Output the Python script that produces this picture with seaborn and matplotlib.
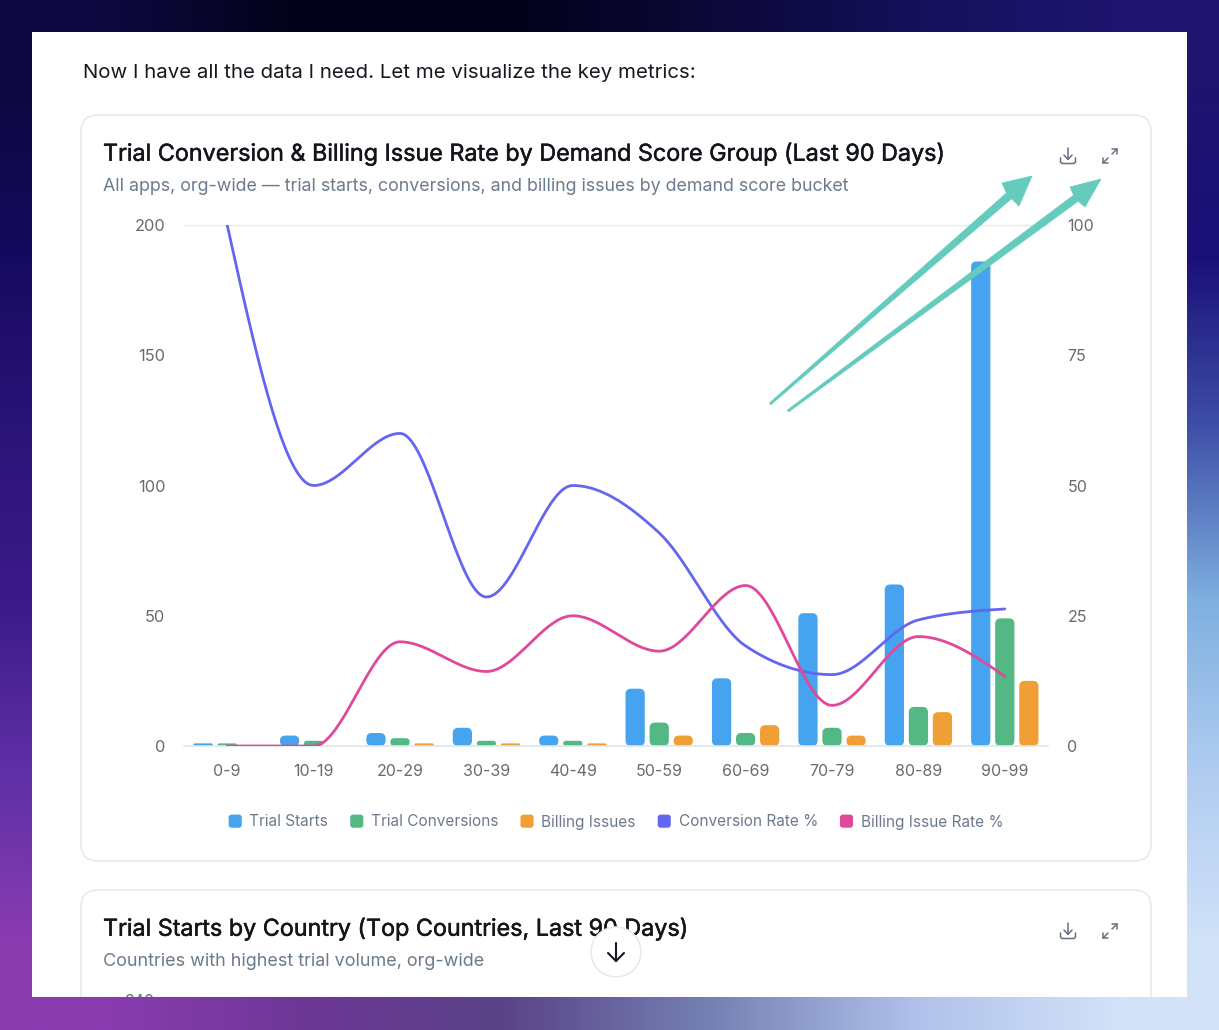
import numpy as np
import pandas as pd
import seaborn as sns
import matplotlib.pyplot as plt
import matplotlib.patheffects as pe
from matplotlib.colors import to_rgb
from matplotlib.legend_handler import HandlerPatch
from matplotlib.patches import Circle, FancyBboxPatch, Patch, Polygon, Rectangle

# data
groups = ["0-9", "10-19", "20-29", "30-39", "40-49", "50-59", "60-69", "70-79", "80-89", "90-99"]
trial_starts = [1, 4, 5, 7, 4, 22, 26, 51, 62, 186]
trial_conversions = [1, 2, 3, 2, 2, 9, 5, 7, 15, 49]
billing_issues = [0, 0, 1, 1, 1, 4, 8, 4, 13, 25]
conversion_rate = [100, 50, 60, 28.6, 50, 40.9, 19.2, 13.7, 24.2, 26.3]
billing_rate = [0, 0, 20, 14.3, 25, 18.2, 30.8, 7.8, 21, 13.4]
left_ticks = [0, 50, 100, 150, 200]
right_ticks = [0, 25, 50, 75, 100]

BLUE, GREEN, ORANGE = "#45a3ef", "#53b883", "#ef9f36"
PURPLE, PINK = "#6366f1", "#e0489a"
W, H = 1219, 1030

sns.set_theme(style="white")
plt.rcParams["font.family"] = ["Inter", "DejaVu Sans"]

fig = plt.figure(figsize=(W / 100, H / 100), dpi=100)


def axes_px(x0, y0, x1, y1, **kw):
    return fig.add_axes([x0 / W, 1 - y1 / H, (x1 - x0) / W, (y1 - y0) / H], **kw)


# background frame, page and cards
bg = fig.add_axes([0, 0, 1, 1], zorder=0)
bg.axis("off")

grad = [
    ["#0e0840", "#030218", "#03021a", "#0c0838", "#14105a", "#1f1570"],
    ["#160a60", "#160a60", "#160a60", "#1a0f78", "#1a0f78", "#1a0f78"],
    ["#2a1478", "#2a1478", "#2a1478", "#3f50a8", "#3f50a8", "#3f50a8"],
    ["#3c1a88", "#3c1a88", "#3c1a88", "#7fb0e0", "#7fb0e0", "#7fb0e0"],
    ["#5f30a6", "#5f30a6", "#5f30a6", "#7480b2", "#a0c0ea", "#b0ccf0"],
    ["#8a3cb0", "#6d3796", "#5a4488", "#7480b2", "#b0c0ea", "#d2e2f9"],
]
grad_rgb = np.array([[to_rgb(c) for c in row] for row in grad])
bg.imshow(grad_rgb, extent=(0, W, H, 0), aspect="auto", interpolation="bilinear", zorder=0)
bg.set_xlim(0, W)
bg.set_ylim(H, 0)

page = Rectangle((32, 32), 1155, 965, fc="white", ec="none", zorder=1)
bg.add_patch(page)
for y_top, y_bottom in [(115, 861), (890, 1060)]:
    card = FancyBboxPatch((81, y_top), 1070, y_bottom - y_top, boxstyle="round,pad=0,rounding_size=17",
                          fc="white", ec="#e4e8ec", lw=1.1, zorder=2)
    bg.add_patch(card)
    card.set_clip_path(page)

# Inter only comes in regular here, a thin stroke gets it closer to medium
medium = [pe.withStroke(linewidth=0.35, foreground="#12151a")]
bg.text(83, 72.5, "Now I have all the data I need. Let me visualize the key metrics:",
        fontsize=14.7, color="#15181e", va="center", zorder=3)
bg.text(103, 154, "Trial Conversion & Billing Issue Rate by Demand Score Group (Last 90 Days)",
        fontsize=16.8, color="#12151a", va="center", zorder=3, path_effects=medium)
bg.text(103, 186.5, "All apps, org-wide \u2014 trial starts, conversions, and billing issues by demand score bucket",
        fontsize=12.83, color="#6b7a8c", va="center", zorder=3)
bg.text(103, 929, "Trial Starts by Country (Top Countries, Last 90 Days)",
        fontsize=16.8, color="#12151a", va="center", zorder=3, path_effects=medium)
bg.text(103, 961.5, "Countries with highest trial volume, org-wide",
        fontsize=12.95, color="#6b7a8c", va="center", zorder=3)
peek = bg.text(140, 1001, "240", fontsize=11.5, color="#666b70", ha="center", va="center", zorder=3)
peek.set_clip_on(True)
peek.set_clip_path(page)

# chart
ax = axes_px(184, 225, 1048, 746, zorder=2)
ax.patch.set_alpha(0)

bars = pd.DataFrame({
    "group": groups * 3,
    "value": trial_starts + trial_conversions + billing_issues,
    "series": ["Trial Starts"] * 10 + ["Trial Conversions"] * 10 + ["Billing Issues"] * 10,
})
sns.barplot(data=bars, x="group", y="value", hue="series",
            palette=[BLUE, GREEN, ORANGE], saturation=1, width=0.835, gap=0.2,
            legend=False, ax=ax)
ax.set_xlim(-0.5, 9.5)
ax.set_ylim(0, 200)

# swap the square bars for rounded ones
px_x = 864 / 10
px_y = 521 / 200
for bar in list(ax.patches):
    x, w, h = bar.get_x(), bar.get_width(), bar.get_height()
    color = bar.get_facecolor()
    bar.remove()
    if h <= 0:
        continue
    r_px = min(5.5, h * px_y / 2)
    ax.add_patch(FancyBboxPatch((x, 0), w, h, boxstyle=f"round,pad=0,rounding_size={r_px / px_x}",
                                mutation_aspect=px_x / px_y, fc=color, ec="none", zorder=2))

ax.set_xlabel("")
ax.set_ylabel("")
ax.set_yticks(left_ticks)
ax.tick_params(axis="x", length=0, pad=13, labelsize=11.5, labelcolor="#666b70")
ax.tick_params(axis="y", length=0, pad=13.5, labelsize=11.8, labelcolor="#666b70")
for side in ["left", "right"]:
    ax.spines[side].set_visible(False)
ax.spines["top"].set_color("#e6e8eb")
ax.spines["bottom"].set_color("#dfe5ee")
ax.spines["top"].set_linewidth(1)
ax.spines["bottom"].set_linewidth(1.2)


def monotone_curve(ys, n=40):
    # same shape as a d3 monotoneX line
    ys = np.asarray(ys, dtype=float)
    xs = np.arange(len(ys), dtype=float)
    s = np.diff(ys)
    t = np.zeros(len(ys))
    for i in range(1, len(ys) - 1):
        p = (s[i - 1] + s[i]) / 2
        t[i] = (np.sign(s[i - 1]) + np.sign(s[i])) * min(abs(s[i - 1]), abs(s[i]), 0.5 * abs(p))
    t[0] = (3 * s[0] - t[1]) / 2
    t[-1] = (3 * s[-1] - t[-2]) / 2
    out_x, out_y = [], []
    for i in range(len(ys) - 1):
        u = np.linspace(0, 1, n)
        out_x.extend(xs[i] + u)
        out_y.extend((2 * u**3 - 3 * u**2 + 1) * ys[i] + (u**3 - 2 * u**2 + u) * t[i]
                     + (-2 * u**3 + 3 * u**2) * ys[i + 1] + (u**3 - u**2) * t[i + 1])
    return np.array(out_x), np.array(out_y)


ax2 = ax.twinx()
ax2.patch.set_alpha(0)
for rate, color in [(conversion_rate, PURPLE), (billing_rate, PINK)]:
    cx, cy = monotone_curve(rate)
    sns.lineplot(x=cx, y=cy, color=color, lw=2.0, estimator=None, sort=False, legend=False, ax=ax2)
ax2.set_xlim(-0.5, 9.5)
ax2.set_ylim(0, 100)
ax2.set_yticks(right_ticks)
ax2.set_ylabel("")
ax2.tick_params(axis="y", length=0, pad=14, labelsize=11.5, labelcolor="#666b70")
for side in ax2.spines:
    ax2.spines[side].set_visible(False)


class RoundSquare(HandlerPatch):
    def create_artists(self, legend, orig, xd, yd, width, height, fontsize, trans):
        p = FancyBboxPatch((-xd, -yd + (height - width) / 2), width, width,
                           boxstyle=f"round,pad=0,rounding_size={width * 0.22}",
                           fc=orig.get_facecolor(), ec="none", transform=trans)
        return [p]


names = ["Trial Starts", "Trial Conversions", "Billing Issues", "Conversion Rate %", "Billing Issue Rate %"]
colors = [BLUE, GREEN, ORANGE, PURPLE, PINK]
handles = [Patch(fc=c, label=n) for c, n in zip(colors, names)]
fig.legend(handles=handles, loc="center", bbox_to_anchor=(616 / W, 1 - 822 / H), ncols=5,
           frameon=False, fontsize=11.1, labelcolor="#6b7a8c", handlelength=0.85, handleheight=0.85,
           handletextpad=0.5, columnspacing=1.43, borderpad=0, borderaxespad=0,
           handler_map={Patch: RoundSquare()})

# overlay: icons, scroll button and the hand drawn arrows
over = fig.add_axes([0, 0, 1, 1], zorder=5)
over.set_xlim(0, W)
over.set_ylim(H, 0)
over.axis("off")
over.patch.set_alpha(0)


def icons(y):
    c = "#667080"
    lw = 1.1
    x = 1068
    over.plot([x, x], [y - 8, y + 3], color=c, lw=lw)
    over.plot([x - 4, x, x + 4], [y - 1, y + 3.5, y - 1], color=c, lw=lw)
    over.plot([x - 7.5, x - 7.5, x - 6, x + 6, x + 7.5, x + 7.5], [y + 2, y + 6, y + 7.5, y + 7.5, y + 6, y + 2], color=c, lw=lw)
    x = 1110
    over.plot([x - 7, x - 2], [y + 7, y + 2], color=c, lw=lw)
    over.plot([x - 7, x - 7, x - 2], [y + 2, y + 7, y + 7], color=c, lw=lw)
    over.plot([x + 2, x + 7], [y - 2, y - 7], color=c, lw=lw)
    over.plot([x + 2, x + 7, x + 7], [y - 7, y - 7, y - 2], color=c, lw=lw)


icons(156)
icons(931)

over.add_patch(Circle((616, 952), 25, fc="white", ec="#e6e9ec", lw=1.1))
over.plot([616, 616], [943, 961], color="#15181e", lw=1.5)
over.plot([608, 616, 624], [953, 961, 953], color="#15181e", lw=1.5)


def arrow(tail, tip, wing_a, wing_b):
    tail, tip, wing_a, wing_b = map(np.array, (tail, tip, wing_a, wing_b))
    d = (tip - tail) / np.linalg.norm(tip - tail)
    n = np.array([-d[1], d[0]])
    neck = (wing_a + wing_b) / 2 - d * 2
    pts = [tail + n * 1.1, neck + n * 3.8, wing_b, tip, wing_a, neck - n * 3.8, tail - n * 1.1]
    over.add_patch(Polygon(pts, closed=True, fc="#65cbbd", ec="#65cbbd", lw=0.5, joinstyle="round"))


arrow((770, 404), (1032, 176), (1002, 183), (1019, 206))
arrow((788, 411), (1101, 179), (1070, 187), (1085, 207))

fig.savefig("out.png", dpi=100)
